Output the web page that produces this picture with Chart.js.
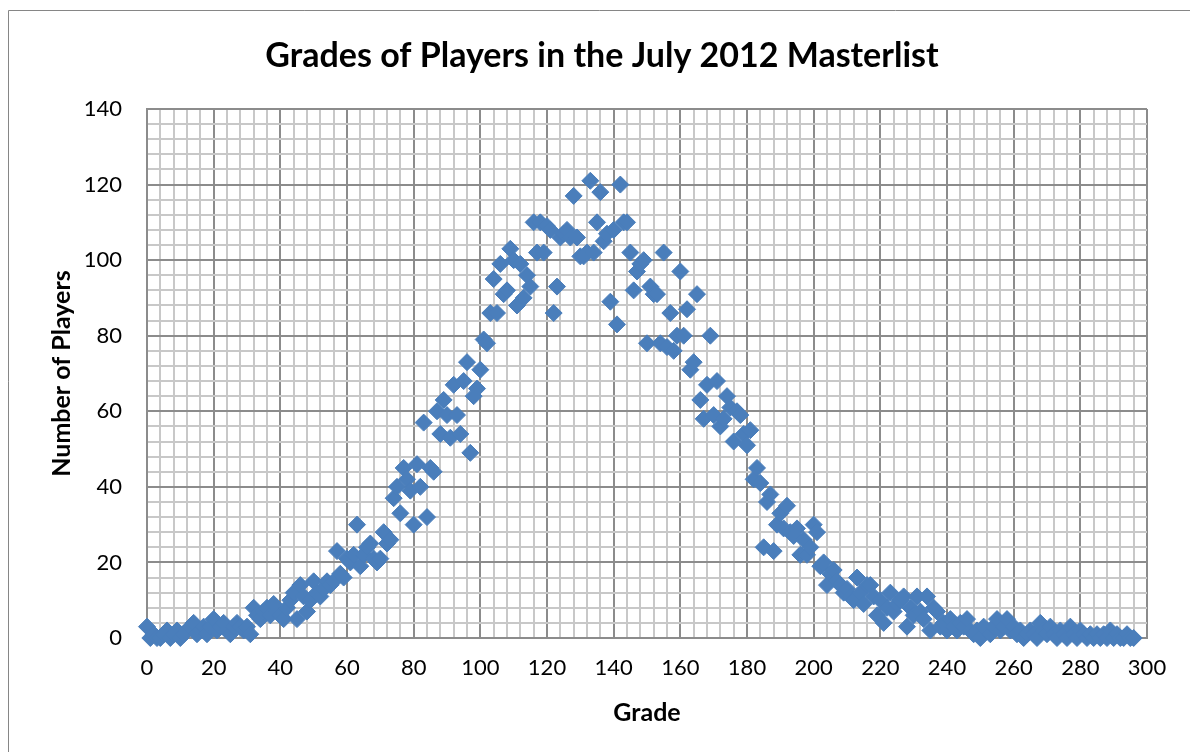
<!DOCTYPE html>
<html>
<head>
<meta charset="utf-8">
<script src="https://cdn.jsdelivr.net/npm/chart.js@4.4.0/dist/chart.umd.min.js"></script>
<style>
  html, body { margin: 0; padding: 0; background: #fff; }
  #wrap { width: 1190px; height: 752px; position: relative; }
</style>
</head>
<body>
<div id="wrap"><canvas id="c" width="1190" height="752"></canvas></div>
<script>
// ---- Data ----
const grades = [];
for (let g = 0; g <= 296; g++) grades.push(g);

const players = [
  // 0-19
  3, 0, 1, 0, 0, 1, 2, 0, 1, 2, 0, 1, 2, 3, 4, 1, 2, 3, 1, 3,
  // 20-39
  5, 2, 3, 4, 2, 1, 3, 4, 3, 2, 3, 1, 8, 6, 5, 7, 8, 6, 9, 7,
  // 40-59
  6, 5, 8, 10, 12, 5, 14, 11, 7, 10, 15, 12, 11, 13, 15, 14, 15, 23, 17, 16,
  // 60-79
  21, 20, 22, 30, 19, 22, 24, 25, 21, 20, 21, 28, 25, 26, 37, 40, 33, 45, 42, 39,
  // 80-99
  30, 46, 40, 57, 32, 45, 44, 60, 54, 63, 59, 53, 67, 59, 54, 68, 73, 49, 64, 66,
  // 100-119
  71, 79, 78, 86, 95, 86, 99, 91, 92, 103, 100, 88, 99, 90, 96, 93, 110, 102, 110, 102,
  // 120-139
  109, 108, 86, 93, 106, 107, 108, 106, 117, 106, 101, 101, 102, 121, 102, 110, 118, 105, 107, 89,
  // 140-159
  108, 83, 120, 110, 110, 102, 92, 97, 99, 100, 78, 93, 91, 91, 78, 102, 77, 86, 76, 80,
  // 160-179
  97, 80, 87, 71, 73, 91, 63, 58, 67, 80, 59, 68, 56, 58, 64, 61, 52, 60, 59, 54,
  // 180-199
  51, 55, 42, 45, 41, 24, 36, 38, 23, 30, 33, 29, 35, 28, 27, 29, 22, 26, 22, 24,
  // 200-219
  30, 28, 19, 20, 14, 17, 18, 15, 14, 12, 13, 11, 10, 16, 12, 9, 14, 14, 11, 6,
  // 220-239
  10, 4, 8, 12, 7, 9, 10, 11, 3, 8, 6, 11, 7, 5, 11, 2, 8, 7, 3, 4,
  // 240-259
  2, 5, 3, 2, 4, 3, 5, 2, 1, 2, 0, 3, 2, 1, 3, 5, 2, 3, 5, 2,
  // 260-279
  3, 1, 2, 0, 1, 2, 1, 0, 4, 2, 1, 3, 1, 0, 2, 1, 0, 3, 1, 0,
  // 280-296
  2, 1, 0, 1, 0, 1, 0, 1, 0, 2, 0, 1, 0, 0, 1, 0, 0
];

const xTickLabels = [0, 20, 40, 60, 80, 100, 120, 140, 160, 180, 200, 220, 240, 260, 280, 300];
const yTickLabels = [0, 20, 40, 60, 80, 100, 120, 140];

const chartTitle = 'Grades of Players in the July 2012 Masterlist';
const xTitle = 'Grade';
const yTitle = 'Number of Players';

// ---- Build ----
const points = grades.map((g, i) => ({ x: g, y: players[i] }));
const MAJOR = '#8c8c8c';
const MINOR = '#c8c8c8';

const frameAndTitle = {
  id: 'frameAndTitle',
  beforeDraw(chart) {
    const ctx = chart.ctx;
    ctx.save();
    ctx.fillStyle = '#fff';
    ctx.fillRect(0, 0, chart.width, chart.height);
    ctx.strokeStyle = '#868686';
    ctx.lineWidth = 1;
    ctx.beginPath();
    ctx.moveTo(8.5, chart.height + 5);
    ctx.lineTo(8.5, 10.5);
    ctx.lineTo(chart.width + 5, 10.5);
    ctx.stroke();
    ctx.restore();
  },
  afterDraw(chart) {
    const ctx = chart.ctx;
    ctx.save();
    ctx.fillStyle = '#000';
    ctx.font = 'bold 34px Lato';
    ctx.textAlign = 'center';
    ctx.textBaseline = 'middle';
    ctx.fillText(chartTitle, 602, 56);
    ctx.restore();
  }
};

function build() {
  new Chart(document.getElementById('c'), {
    type: 'scatter',
    data: {
      datasets: [{
        data: points,
        pointStyle: 'rectRot',
        pointRadius: 8.5,
        pointHoverRadius: 8.5,
        pointBackgroundColor: '#4a7ebb',
        pointBorderColor: '#4a7ebb',
        pointBorderWidth: 1,
        clip: false
      }]
    },
    options: {
      responsive: false,
      animation: false,
      events: [],
      layout: { padding: { left: 0, right: 43, top: 109, bottom: 0 } },
      plugins: {
        legend: { display: false },
        tooltip: { enabled: false },
        title: { display: false }
      },
      scales: {
        x: {
          type: 'linear',
          min: 0, max: 300,
          afterFit(s) { s.height = 114; },
          afterBuildTicks(s) {
            const t = [];
            for (let v = 0; v <= 300; v += 4) t.push({ value: v });
            s.ticks = t;
          },
          ticks: {
            autoSkip: false,
            maxRotation: 0,
            padding: 17,
            color: '#000',
            font: { family: 'Lato', size: 22 },
            callback: (v) => xTickLabels.includes(v) ? String(v) : ''
          },
          grid: {
            drawTicks: false,
            color: (c) => (c.tick && c.tick.value % 20 === 0) ? MAJOR : MINOR,
            lineWidth: 2
          },
          border: { display: true, color: MAJOR, width: 2 },
          title: {
            display: true,
            text: xTitle,
            color: '#000',
            font: { family: 'Lato', size: 25, weight: 'bold', lineHeight: 1.2 },
            padding: { top: 0, bottom: 24 }
          }
        },
        y: {
          type: 'linear',
          min: 0, max: 140,
          afterFit(s) { s.width = 147; },
          afterBuildTicks(s) {
            const t = [];
            for (let v = 0; v <= 140; v += 4) t.push({ value: v });
            s.ticks = t;
          },
          ticks: {
            autoSkip: false,
            padding: 25,
            color: '#000',
            font: { family: 'Lato', size: 22 },
            callback: (v) => yTickLabels.includes(v) ? String(v) : ''
          },
          grid: {
            drawTicks: false,
            color: (c) => (c.tick && c.tick.value % 20 === 0) ? MAJOR : MINOR,
            lineWidth: 2
          },
          border: { display: true, color: MAJOR, width: 2 },
          title: {
            display: true,
            text: yTitle,
            color: '#000',
            font: { family: 'Lato', size: 25, weight: 'bold', lineHeight: 1.2 },
            padding: { top: 47, bottom: 0 }
          }
        }
      }
    },
    plugins: [frameAndTitle]
  });
}

if (document.fonts && document.fonts.load) {
  Promise.all([
    document.fonts.load('22px Lato'),
    document.fonts.load('bold 34px Lato')
  ]).then(build, build);
} else {
  build();
}
</script>
</body>
</html>
